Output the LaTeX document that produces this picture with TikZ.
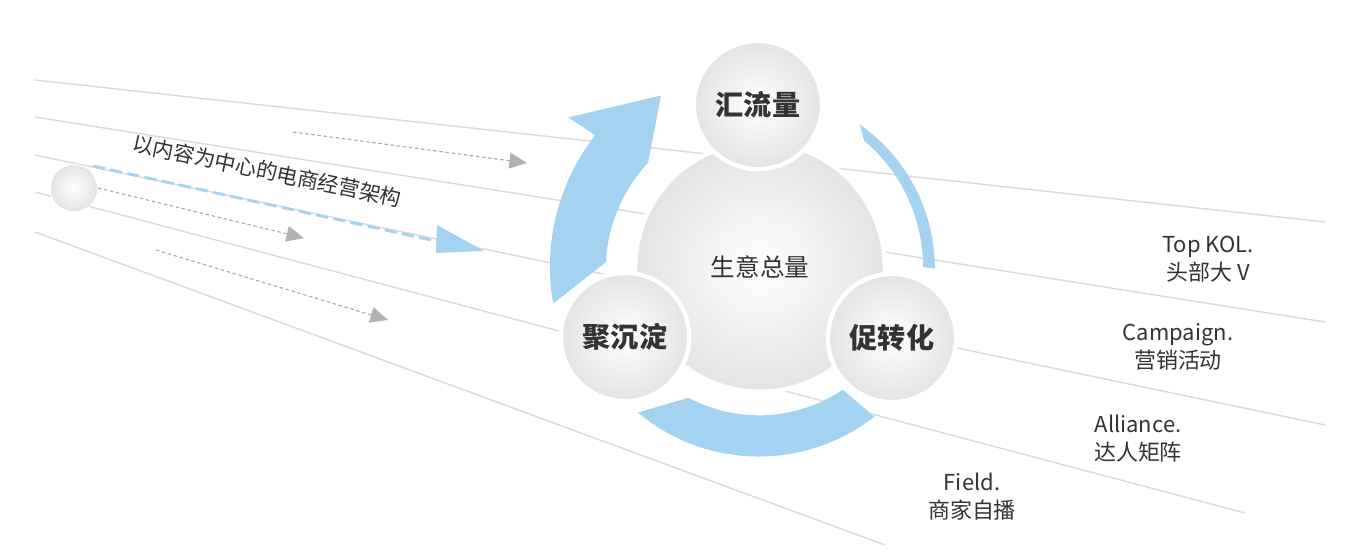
\documentclass[tikz,border=0pt]{standalone}
\usepackage{fontspec}
\setmainfont{Noto Sans CJK SC}
\usetikzlibrary{arrows.meta,shapes.geometric,calc}
\definecolor{skyblue}{HTML}{A3D3F0}
\definecolor{ink}{HTML}{333333}
\tikzset{
  ball/.style={circle, draw=white, line width=2.5pt, inner color=white, outer color=black!11, text=ink},
  track/.style={draw=black!15, line width=0.8pt},
  flow/.style={draw=black!35, dash pattern=on 2pt off 1.5pt, line width=0.6pt, -{Triangle[length=10pt,width=9pt,color=black!30,fill=black!30]}}
}
\begin{document}
\begin{tikzpicture}[x=0.02cm,y=-0.02cm]
\useasboundingbox (0,0) rectangle (1360,554);
% background tracks
\draw [track] (35,80) -- (1325,222);
\draw [track] (35,117) -- (1325,322);
\draw [track] (35,155) -- (1325,425);
\draw [track] (35,192) -- (1245,513);
\draw [track] (35,232) -- (885,545);

% small ball and flows
\node [ball, minimum size=27pt, inner sep=0, line width=0pt] (seed) at (74,188) {};
\coordinate (f1a) at (293,132); \coordinate (f1b) at (527,163);
\coordinate (f2a) at (98,188);  \coordinate (f2b) at (304,238);
\coordinate (f3a) at (156,250); \coordinate (f3b) at (388,320);
\draw [flow] (f1a) -- (f1b);
\draw [flow] (f2a) -- (f2b);
\draw [flow] (f3a) -- (f3b);
\coordinate (main) at (484,251);
\draw [skyblue, line width=1.6pt, dash pattern=on 7pt off 3pt] (93,166) -- (440,242);
\fill [skyblue] (437,225) -- (main) -- (436,253) -- cycle;
\node [text=ink, rotate=-11.8, font=\fontsize{12}{13}\selectfont] (title) at (267,171) {以内容为中心的电商经营架构};

% cycle arrows
\coordinate (c) at (760,267);
\fill [skyblue] ($(c)+(170:210)$) arc [start angle=170, end angle=218, radius=213]
  -- ($(c)+(218:243)$) -- ($(c)+(240:198)$) -- ($(c)+(223:153)$)
  arc [start angle=223, end angle=183, radius=158] -- cycle;
\fill [skyblue] ($(c)+(130:190)$) arc [start angle=130, end angle=52, radius=188]
  -- ($(c)+(56:148)$) arc [start angle=56, end angle=118, radius=150] -- cycle;
\fill [skyblue] ($(c)+(-55:174)$) arc [start angle=-55, end angle=0, radius=176]
  -- ($(c)+(0:163)$) arc [start angle=0, end angle=-50, radius=165] -- cycle;

% spheres
\node [ball, minimum size=142pt, font=\fontsize{14}{16}\selectfont] (total) at (c) {生意总量};
\node [ball, minimum size=73pt, font=\fontsize{16}{18}\selectfont\bfseries] (flux) at (758,105) {汇流量};
\node [ball, minimum size=73pt, font=\fontsize{16}{18}\selectfont\bfseries] (keep) at (625,337) {聚沉淀};
\node [ball, minimum size=73pt, font=\fontsize{16}{18}\selectfont\bfseries] (convert) at (892,338) {促转化};

% channels
\tikzset{chan/.style={text=ink, align=center, font=\fontsize{12.5}{16}\selectfont}}
\node [chan] (kol) at (1208,259) {Top KOL.\\头部大 V};
\node [chan] (camp) at (1178,347) {Campaign.\\营销活动};
\node [chan] (ally) at (1138,439) {Alliance.\\达人矩阵};
\node [chan] (field) at (972,497) {Field.\\商家自播};
\end{tikzpicture}
\end{document}
